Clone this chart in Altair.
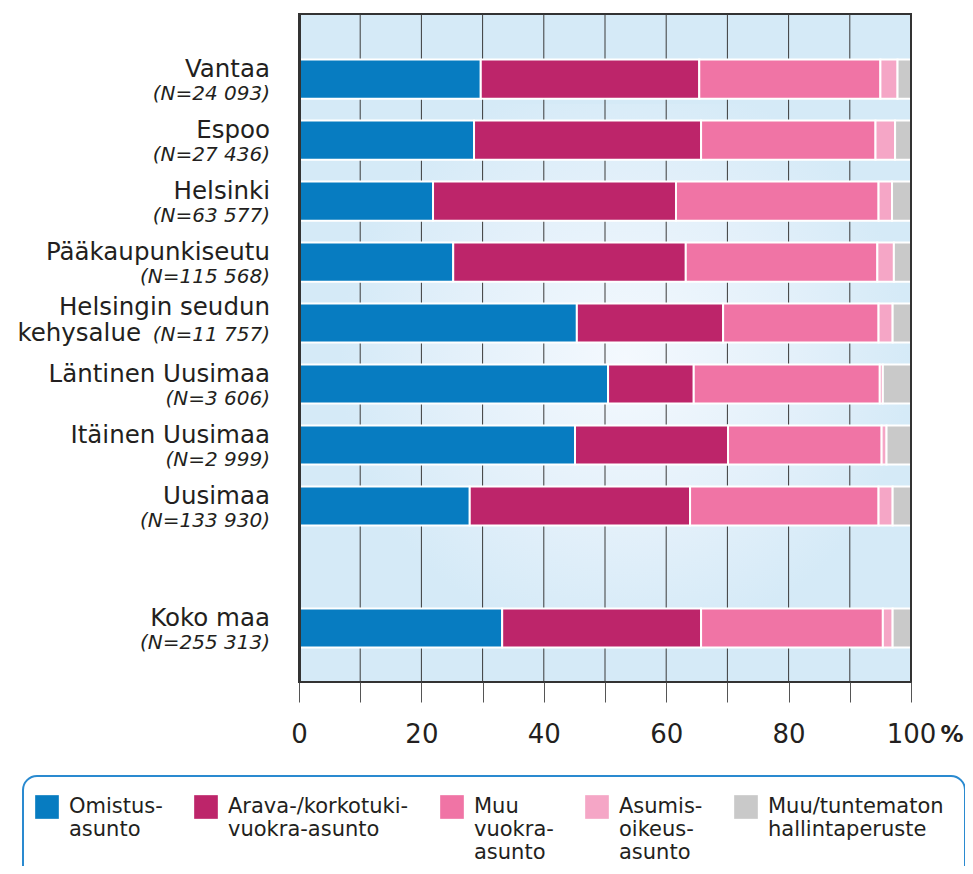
import json
import altair as alt
import pandas as pd

# ---- data ----
regions = ["Vantaa", "Espoo", "Helsinki", "Pääkaupunkiseutu",
           "Helsingin seudun kehysalue", "Läntinen Uusimaa", "Itäinen Uusimaa",
           "Uusimaa", "Koko maa"]
n_counts = ["24 093", "27 436", "63 577", "115 568", "11 757", "3 606",
            "2 999", "133 930", "255 313"]
label_line1 = ["Vantaa", "Espoo", "Helsinki", "Pääkaupunkiseutu",
               "Helsingin seudun", "Läntinen Uusimaa", "Itäinen Uusimaa",
               "Uusimaa", "Koko maa"]
label_line2 = ["", "", "", "", "kehysalue", "", "", "", ""]

categories = ["Omistusasunto", "Arava-/korkotukivuokra-asunto",
              "Muu vuokra-asunto", "Asumisoikeusasunto",
              "Muu/tuntematon hallintaperuste"]
legend_lines = {
    "Omistusasunto": ["Omistus-", "asunto", " "],
    "Arava-/korkotukivuokra-asunto": ["Arava-/korkotuki-", "vuokra-asunto", " "],
    "Muu vuokra-asunto": ["Muu", "vuokra-", "asunto"],
    "Asumisoikeusasunto": ["Asumis-", "oikeus-", "asunto"],
    "Muu/tuntematon hallintaperuste": ["Muu/tuntematon", "hallintaperuste", " "],
}
omistus = [29.7, 28.6, 21.9, 25.2, 45.4, 50.5, 45.1, 27.9, 33.2]
arava = [35.7, 37.1, 39.7, 38.0, 23.9, 14.0, 25.0, 36.0, 32.5]
muu_vuokra = [29.6, 28.5, 33.1, 31.3, 25.4, 30.4, 25.1, 30.8, 29.7]
asumisoikeus = [2.8, 3.2, 2.2, 2.7, 2.3, 0.5, 0.8, 2.3, 1.6]
muu_tuntematon = [2.2, 2.6, 3.1, 2.8, 3.0, 4.6, 4.1, 3.0, 3.0]
x_ticks = list(range(0, 101, 10))

colors = ["#077cc1", "#bd256a", "#f074a5", "#f5a6c6", "#c9c9c9"]

# ---- tables ----
series = [omistus, arava, muu_vuokra, asumisoikeus, muu_tuntematon]
rows = []
for ci, (cat, vals) in enumerate(zip(categories, series)):
    for r, v in zip(regions, vals):
        rows.append({"region": r, "category": cat, "value": v, "order": ci})
bars_df = pd.DataFrame(rows)

labels_df = pd.DataFrame({
    "region": regions,
    "line1": label_line1,
    "plain2": label_line2,
    "italic2": ["(N=" + n + ")" for n in n_counts],
})
grid_df = pd.DataFrame({"x": x_ticks})

y_domain = regions[:8] + [" "] + regions[8:]
y_scale = alt.Scale(domain=y_domain, paddingInner=0.36, paddingOuter=0.656, align=0.57)
x_scale = alt.Scale(domain=[0, 100], nice=False)

FONT = "DejaVu Sans"
TXT = "#231f20"
W, H = 612, 668

legend_expr = " : ".join(
    f"datum.label == {json.dumps(k)} ? {json.dumps(v, ensure_ascii=False)}"
    for k, v in legend_lines.items()
) + " : datum.label"

x_axis = alt.Axis(values=x_ticks, title=None, grid=False,
                  tickColor="#555", tickSize=20, tickWidth=1,
                  domain=False, labelFontSize=26, labelFont=FONT,
                  labelColor=TXT, labelPadding=19, labelFlush=False,
                  labelExpr="datum.value % 20 === 0 ? datum.label : ''")

glow = alt.Chart(pd.DataFrame({"a": [0]})).mark_rect(
    fill=alt.RadialGradient(
        gradient="radial", x1=0.5, y1=0.5, x2=0.5, y2=0.5, r1=0, r2=0.5,
        stops=[alt.GradientStop(offset=0, color="#f4f9fe"),
               alt.GradientStop(offset=0.6, color="#e3f0fa"),
               alt.GradientStop(offset=1, color="#d5eaf7")]),
).encode(x=alt.value(40), x2=alt.value(W), y=alt.value(90), y2=alt.value(600))

grid = alt.Chart(grid_df).mark_rule(color="#3a3a3a", strokeWidth=1).encode(
    x=alt.X("x:Q", scale=x_scale, axis=x_axis)
)

bars = alt.Chart(bars_df).mark_bar(stroke="white", strokeWidth=2).encode(
    x=alt.X("value:Q", stack="zero", scale=x_scale, axis=x_axis),
    y=alt.Y("region:N", scale=y_scale,
            axis=alt.Axis(labels=False, ticks=False, title=None, grid=False,
                          domain=True, domainColor="#333", domainWidth=3,
                          zindex=1)),
    color=alt.Color("category:N",
                    scale=alt.Scale(domain=categories, range=colors),
                    legend=alt.Legend(
                        title=None, orient="none", legendX=-264, legendY=781,
                        direction="horizontal", columns=5, columnPadding=31,
                        symbolType="square", symbolSize=560,
                        symbolStrokeWidth=0, labelFontSize=21, labelFont=FONT,
                        labelColor=TXT, labelLimit=0, labelOffset=10,
                        labelBaseline="middle",
                        labelExpr=legend_expr)),
    order=alt.Order("order:Q"),
)

border = alt.Chart(pd.DataFrame({"a": [0]})).mark_rule(
    color="#333", strokeWidth=2
).encode(x=alt.value(W), y=alt.value(0), y2=alt.value(H))

single = labels_df[labels_df["plain2"] == ""]
double = labels_df[labels_df["plain2"] != ""]


def txt(df, field, dy, size, italic=False, x=-29):
    kw = dict(align="right", baseline="alphabetic", font=FONT, fontSize=size,
              color=TXT, dy=dy)
    if italic:
        kw["fontStyle"] = "italic"
    return alt.Chart(df).mark_text(**kw).encode(
        x=alt.value(x), y=alt.Y("region:N", scale=y_scale), text=f"{field}:N")


name_text = txt(single, "line1", -2, 24.5)
n_text = txt(single, "italic2", 21, 20, italic=True)
d_line1 = txt(double, "line1", -8, 24.5)
d_plain2 = txt(double, "plain2", 18, 24.5, x=-158)
d_n = txt(double, "italic2", 18, 20, italic=True)

pct = alt.Chart(pd.DataFrame({"t": ["%"]})).mark_text(
    align="center", baseline="top", font=FONT, fontSize=23,
    fontWeight="bold", color=TXT,
).encode(x=alt.value(653), y=alt.value(710), text="t:N")

box = alt.Chart(pd.DataFrame({"a": [0]})).mark_rect(
    fill="white", fillOpacity=0, stroke="#2a8ad0", strokeWidth=2,
    cornerRadius=14,
).encode(x=alt.value(-276), x2=alt.value(666), y=alt.value(762),
         y2=alt.value(900))

chart = alt.layer(glow, grid, bars, border, name_text, n_text, d_line1,
                  d_plain2, d_n, pct, box).properties(
    width=W, height=H,
    padding={"left": 291, "top": 6, "right": 54, "bottom": 184},
    autosize=alt.AutoSizeParams(type="none"),
    background="white",
).configure_view(
    fill="#d5eaf7", stroke="#333", strokeWidth=2,
)

chart.save("out.html", embed_options={"renderer": "svg", "actions": False})
